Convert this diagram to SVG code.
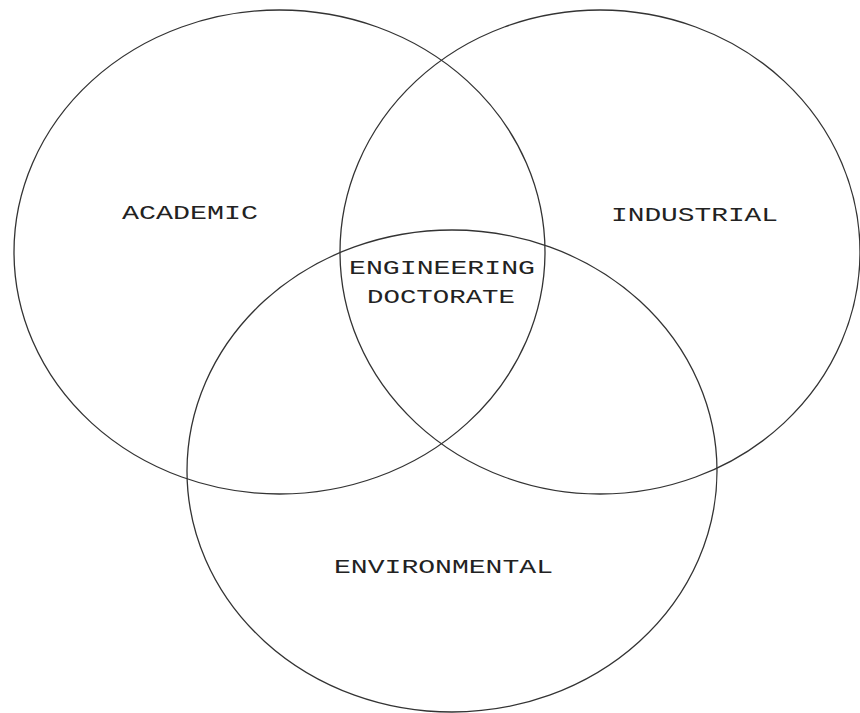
<svg xmlns="http://www.w3.org/2000/svg" width="860" height="713" viewBox="0 0 860 713">
<style>
.c{fill:none;stroke:#333;stroke-width:1.3}
.t{font-family:"Liberation Mono","Courier New",monospace;font-size:21px;fill:#222}
</style>
<rect width="860" height="713" fill="#fff"/>
<g id="academic"><ellipse class="c" cx="279.5" cy="252" rx="265.5" ry="242"/><text class="t" x="122" y="219" textLength="136" lengthAdjust="spacingAndGlyphs">ACADEMIC</text></g>
<g id="industrial"><ellipse class="c" cx="600" cy="252" rx="260" ry="242"/><text class="t" x="611" y="221" textLength="167" lengthAdjust="spacingAndGlyphs">INDUSTRIAL</text></g>
<g id="environmental"><ellipse class="c" cx="452" cy="471" rx="265" ry="241"/><text class="t" x="334" y="573" textLength="219" lengthAdjust="spacingAndGlyphs">ENVIRONMENTAL</text></g>
<g id="engineering-doctorate"><text class="t" x="349" y="274" textLength="186" lengthAdjust="spacingAndGlyphs">ENGINEERING</text><text class="t" x="367" y="303" textLength="148" lengthAdjust="spacingAndGlyphs">DOCTORATE</text></g>
<g id="connectors"></g>
</svg>
